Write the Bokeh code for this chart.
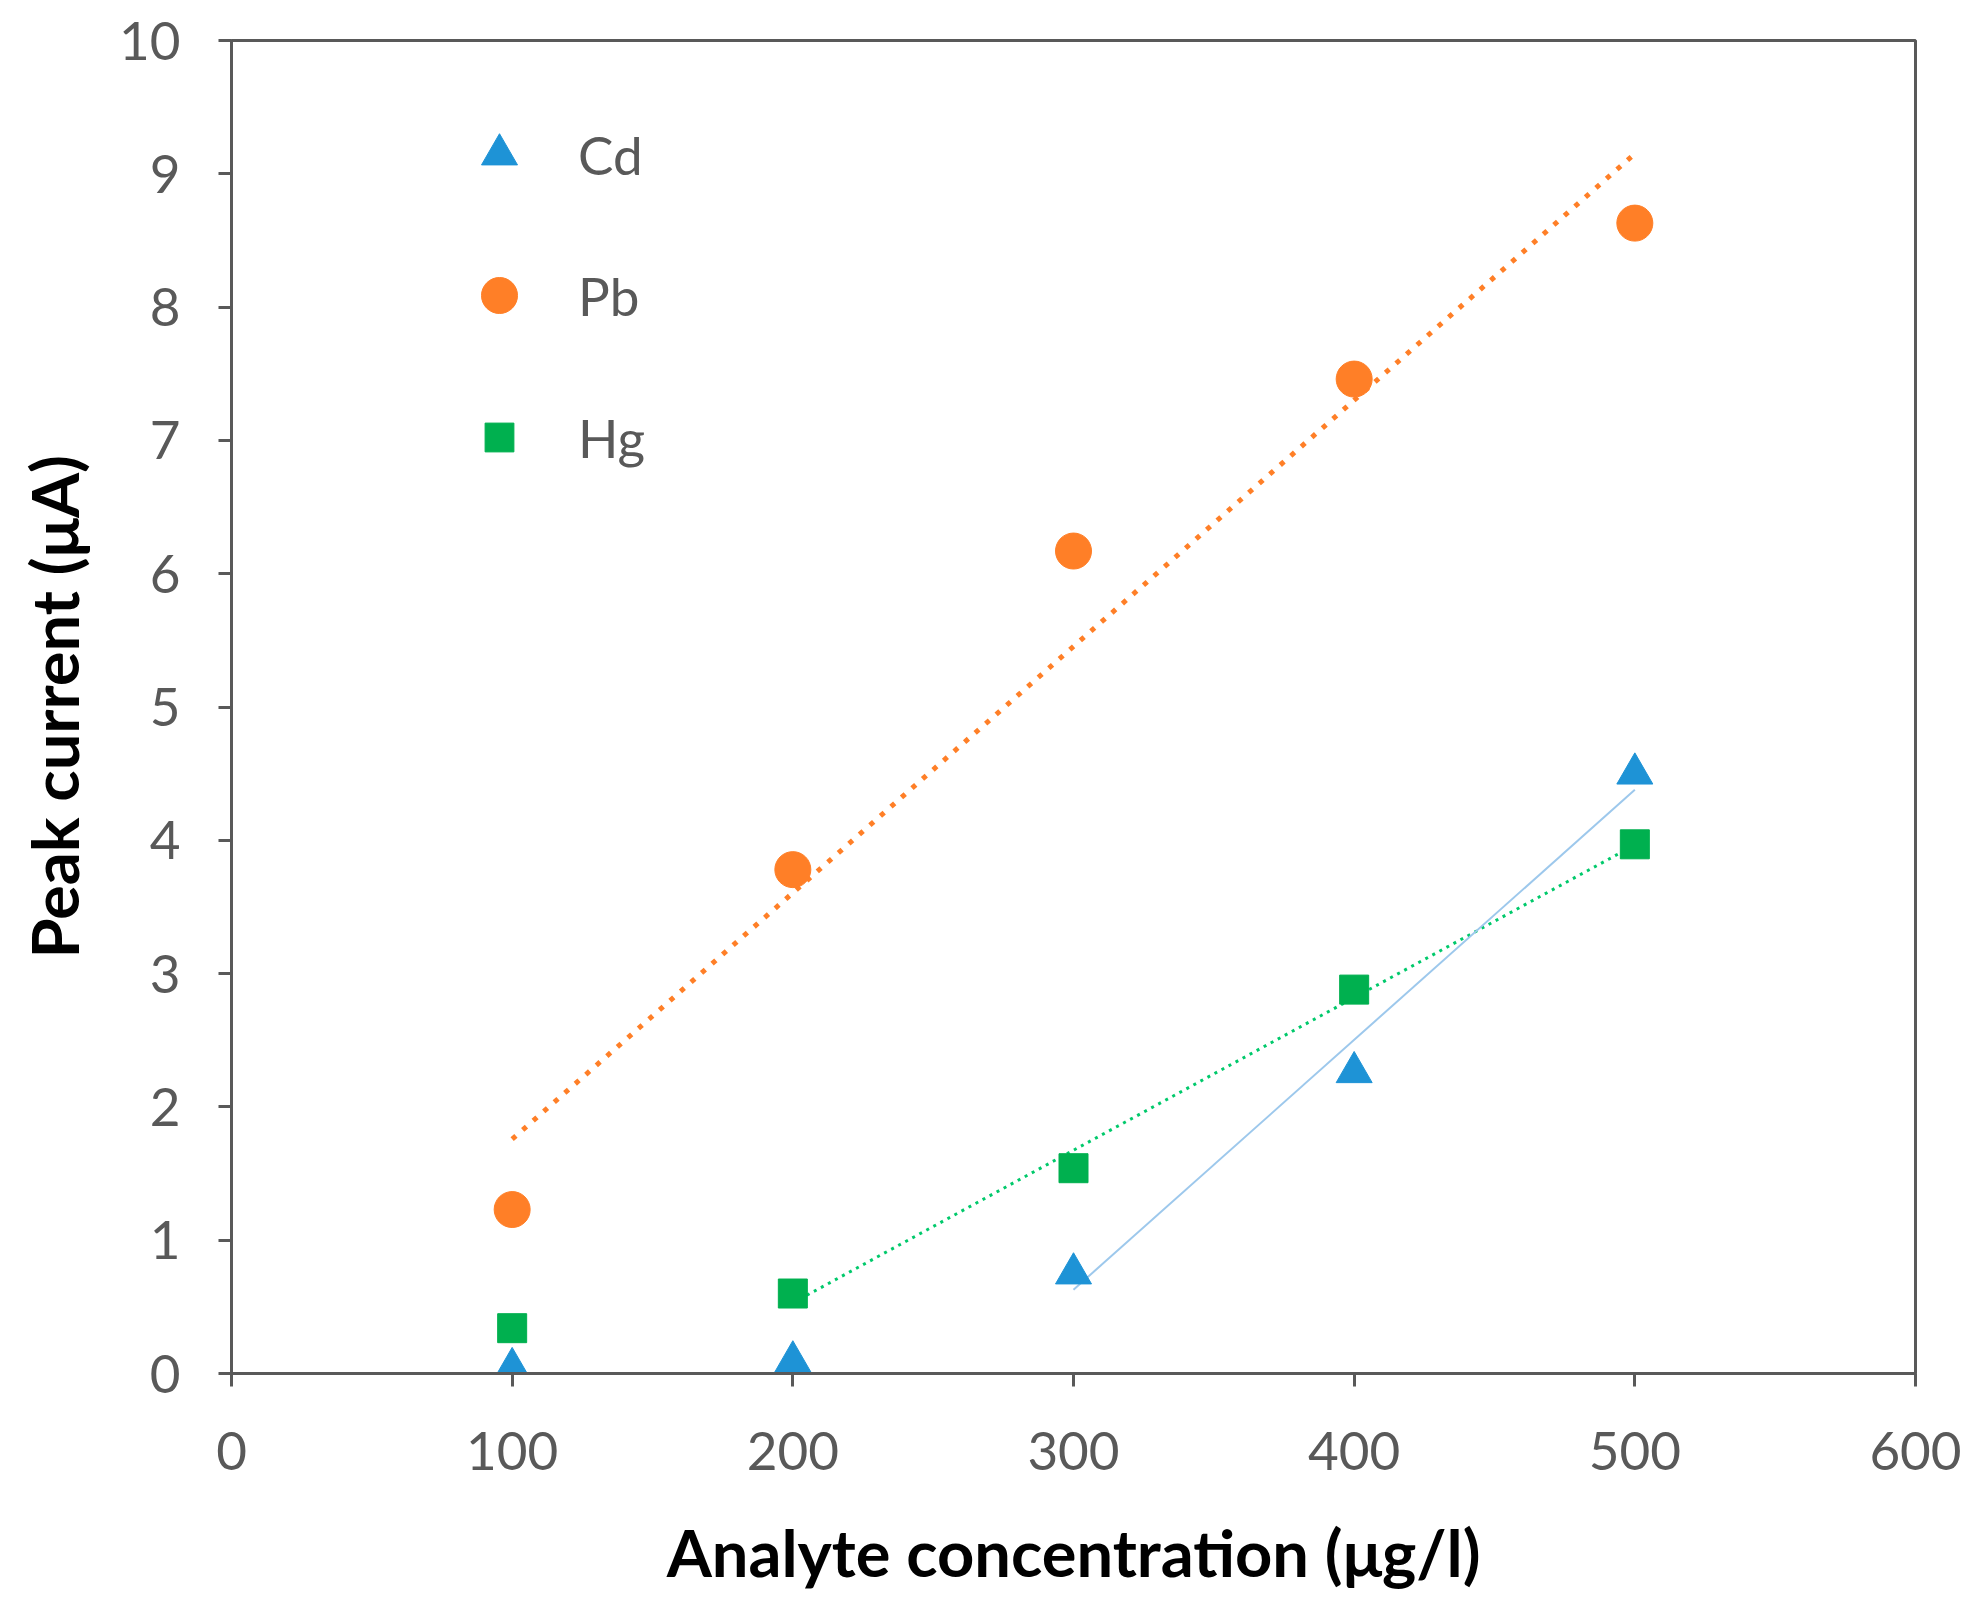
import numpy as np
from bokeh.plotting import figure
from bokeh.models import Legend, LegendItem, FixedTicker, Range1d
from bokeh.embed import file_html
from bokeh.resources import INLINE

# concentration (ug/l) and peak current (uA)
conc = [100, 200, 300, 400, 500]
cd_current = [0.04, 0.09, 0.75, 2.26, 4.50]
pb_current = [1.23, 3.78, 6.17, 7.46, 8.63]
hg_current = [0.34, 0.60, 1.54, 2.88, 3.97]

# points used for each linear trendline (first index of the fit)
cd_fit_from = 2
pb_fit_from = 0
hg_fit_from = 1

x_ticks = [0, 100, 200, 300, 400, 500, 600]
y_ticks = list(range(0, 11))

AXIS_GRAY = "#595959"
FONT = "Lato"
FRAME_H = 1333


def trend(xs, ys, start):
    xs = np.array(xs[start:], dtype=float)
    ys = np.array(ys[start:], dtype=float)
    slope, icpt = np.polyfit(xs, ys, 1)
    ends = np.array([xs[0], xs[-1]])
    return ends, slope * ends + icpt


def legend_entry(label, renderer, center_y, glyph):
    # one single-item legend per series, so each marker keeps its own size
    # (bokeh draws legend markers at 0.4 x the glyph box)
    return Legend(
        items=[LegendItem(label=label, renderers=[renderer])],
        location=(268 - glyph // 2, FRAME_H - center_y - glyph // 2),
        border_line_color=None,
        background_fill_alpha=0,
        padding=0,
        margin=0,
        glyph_width=glyph,
        glyph_height=glyph,
        label_height=glyph,
        label_standoff=347 - 268 - glyph // 2,
        label_text_font=FONT,
        label_text_font_size="53px",
        label_text_color=AXIS_GRAY,
    )


p = figure(
    width=1966,
    height=1599,
    x_range=Range1d(0, 600),
    y_range=Range1d(0, 10),
    output_backend="svg",
    toolbar_location=None,
    min_border_left=231,
    min_border_right=51,
    min_border_top=40,
    min_border_bottom=226,
)
p.grid.visible = False
p.background_fill_color = "white"
p.border_fill_color = "white"
p.outline_line_color = AXIS_GRAY
p.outline_line_width = 3

for ax in (p.xaxis[0], p.yaxis[0]):
    ax.axis_line_color = AXIS_GRAY
    ax.axis_line_width = 3
    ax.major_tick_line_color = AXIS_GRAY
    ax.major_tick_line_width = 3
    ax.major_tick_in = 0
    ax.major_tick_out = 13
    ax.minor_tick_line_color = None
    ax.major_label_text_font = FONT
    ax.major_label_text_font_size = "53px"
    ax.major_label_text_color = AXIS_GRAY
    ax.axis_label_text_font = FONT
    ax.axis_label_text_font_style = "bold"
    ax.axis_label_text_font_size = "65px"
    ax.axis_label_text_color = "black"

p.xaxis.ticker = FixedTicker(ticks=x_ticks)
p.yaxis.ticker = FixedTicker(ticks=y_ticks)
p.xaxis.axis_label = "Analyte concentration (μg/l)"
p.yaxis.axis_label = "Peak current (μA)"
p.xaxis.major_label_standoff = 45
p.yaxis.major_label_standoff = 38
p.xaxis.axis_label_standoff = 40
p.yaxis.axis_label_standoff = 23

# trendlines
tx, ty = trend(conc, pb_current, pb_fit_from)
p.line(tx, ty, line_color="#FF7F27", line_width=5, line_dash="5 9")
tx, ty = trend(conc, hg_current, hg_fit_from)
p.line(tx, ty, line_color="#00C96B", line_width=3, line_dash="3 5")
tx, ty = trend(conc, cd_current, cd_fit_from)
p.line(tx, ty, line_color="#9DC8EC", line_width=2)

# data points
r_cd = p.scatter(conc, cd_current, marker="triangle", size=36,
                 fill_color="#1E93D6", line_color="#1E93D6")
r_pb = p.scatter(conc, pb_current, marker="circle", size=36,
                 fill_color="#FF7F27", line_color="#FF7F27")
r_hg = p.scatter(conc, hg_current, marker="square", size=29,
                 fill_color="#00B04F", line_color="#00B04F")

p.add_layout(legend_entry("Cd", r_cd, 114, 90))
p.add_layout(legend_entry("Pb", r_pb, 255, 90))
p.add_layout(legend_entry("Hg", r_hg, 397, 72))

open("out.html", "w").write(file_html(p, INLINE))
